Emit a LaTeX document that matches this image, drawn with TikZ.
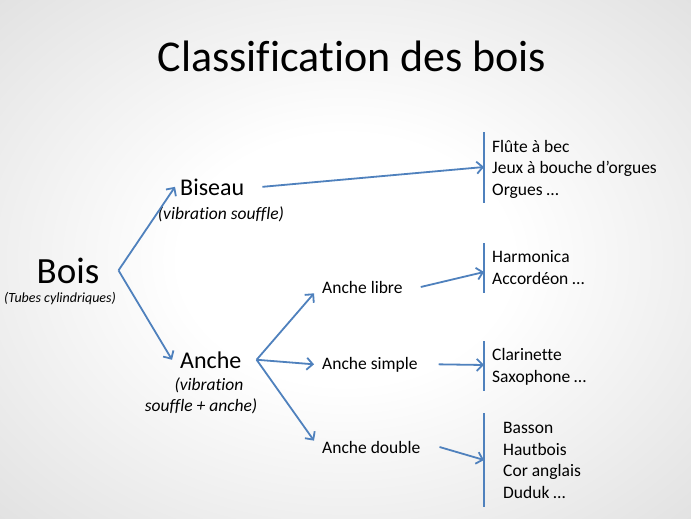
\documentclass[tikz,border=0pt]{standalone}
\usepackage{fontspec}
\setmainfont[Ligatures=NoCommon]{Carlito}
\usetikzlibrary{arrows.meta}
\definecolor{arr}{HTML}{4F81BD}
\pgfdeclareradialshading{slidebg}{\pgfpoint{0bp}{0bp}}{color(0bp)=(white); color(12bp)=(white); color(45bp)=(black!16); color(71bp)=(black!34)}
\tikzset{
  lbl/.style={inner sep=0pt, anchor=base west, text=black},
  sub/.style={inner sep=0pt, anchor=base, text=black, font=\fontsize{17.5}{21}\selectfont\itshape},
  lst/.style={inner sep=0pt, anchor=base west, align=left, text=black, font=\fontsize{17.5}{21.5}\selectfont},
  mid/.style={lbl, font=\fontsize{17.5}{21}\selectfont},
  con/.style={draw=arr, line width=1.8pt, -{Straight Barb[length=6pt,width=12pt]}},
  brk/.style={draw=arr, line width=1.8pt}
}
\begin{document}
\begin{tikzpicture}[x=1pt,y=-1pt]
\useasboundingbox (0,0) rectangle (691,519);
\shade[shading=slidebg] (0,0) rectangle (691,519);
% title
\node[inner sep=0pt, anchor=base, font=\fontsize{44}{52}\selectfont] (title) at (352,72) {Classification des bois};
% main nodes
\node[lbl, font=\fontsize{37}{44}\selectfont, anchor=base] (bois) at (68,283) {Bois};
\node[sub, font=\fontsize{14}{16}\selectfont\itshape] (tubes) at (60,302) {(Tubes cylindriques)};
\node[lbl, font=\fontsize{24}{29}\selectfont] (biseau) at (180,195) {Biseau};
\node[sub] (bsub) at (221,219) {(vibration souffle)};
\node[lbl, font=\fontsize{24}{29}\selectfont] (anche) at (180,368) {Anche};
\node[sub] (asub1) at (209,390) {(vibration};
\node[sub] (asub2) at (201,411) {souffle + anche)};
\node[mid] (al) at (322,293) {Anche libre};
\node[mid] (as) at (322,369) {Anche simple};
\node[mid] (ad) at (322,453) {Anche double};
% lists (anchor on the baseline of the last line)
\node[lst] (l1) at (492,195) {Flûte à bec\\Jeux à bouche d’orgues\\Orgues …};
\node[lst] (l2) at (492,284) {Harmonica\\Accordéon …};
\node[lst] (l3) at (492,382) {Clarinette\\Saxophone …};
\node[lst] (l4) at (503,498) {Basson\\Hautbois\\Cor anglais\\Duduk …};
% brackets
\coordinate (b1t) at (484,132); \coordinate (b1b) at (484,203); \coordinate (b1i) at (484,167);
\coordinate (b2t) at (484,243); \coordinate (b2b) at (484,293); \coordinate (b2i) at (484,272);
\coordinate (b3t) at (484,341); \coordinate (b3b) at (484,391); \coordinate (b3i) at (484,365);
\coordinate (b4t) at (484,413); \coordinate (b4b) at (484,507); \coordinate (b4i) at (484,460);
\draw[brk] (b1t) -- (b1b);
\draw[brk] (b2t) -- (b2b);
\draw[brk] (b3t) -- (b3b);
\draw[brk] (b4t) -- (b4b);
% forks
\coordinate (fa) at ([xshift=19pt]bois.east);
\coordinate (fb) at ([xshift=15pt]anche.east);
\draw[con] (fa) -- ([xshift=-5pt]biseau.west);
\draw[con] (fa) -- ([xshift=-8pt]anche.west);
\draw[con] (fb) -- ([xshift=-8pt]al.south west);
\draw[con] (fb) -- ([xshift=-8pt]as.west);
\draw[con] (fb) -- ([xshift=-8pt]ad.north west);
\draw[con] ([xshift=18pt]biseau.east) -- (b1i);
\draw[con] ([xshift=18pt]al.east) -- (b2i);
\draw[con] ([xshift=21pt]as.east) -- (b3i);
\draw[con] ([xshift=19pt]ad.east) -- (b4i);
\end{tikzpicture}
\end{document}
